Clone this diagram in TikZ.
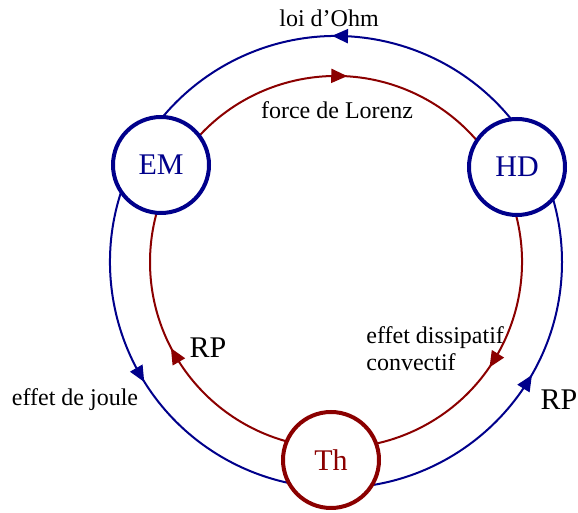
\documentclass[tikz,border=0pt]{standalone}
\usepackage{fontspec}
\setmainfont{Liberation Serif}
\usetikzlibrary{arrows.meta,decorations.markings}
\definecolor{bleu}{RGB}{0,0,139}
\definecolor{rouge}{RGB}{139,0,0}
\tikzset{
  domaine/.style={circle, draw, line width=2pt, fill=white, minimum size=48pt, inner sep=0pt, font=\fontsize{15}{18}\selectfont},
  lien/.style={line width=1pt, postaction={decorate}, decoration={markings, mark=at position 0.5 with {\arrow[xshift=4pt]{Triangle[length=8pt,width=7pt]}}}},
  etiq/.style={inner sep=0pt, font=\fontsize{12}{13.5}\selectfont},
  grand/.style={inner sep=0pt, font=\fontsize{15}{18}\selectfont}
}
\begin{document}
\begin{tikzpicture}[x=0.5pt, y=0.5pt, line cap=round]
    \useasboundingbox (0,0) rectangle (578,513);

    % Centro dei cerchi
    \coordinate (c) at (336,251);

    % Cerchio esterno (blu)
    \draw[lien, bleu] ([shift={(27:226)}]c) arc[start angle=27, end angle=151, radius=226];
    \draw[lien, bleu] ([shift={(151:226)}]c) arc[start angle=151, end angle=269, radius=226];
    \draw[lien, bleu] ([shift={(269:226)}]c) arc[start angle=269, end angle=387, radius=226];

    % Cerchio interno (rosso)
    \draw[lien, rouge] ([shift={(151:186)}]c) arc[start angle=151, end angle=27, radius=186];
    \draw[lien, rouge] ([shift={(27:186)}]c) arc[start angle=27, end angle=-91, radius=186];
    \draw[lien, rouge] ([shift={(269:186)}]c) arc[start angle=269, end angle=151, radius=186];

    % Domini
    \node[domaine, draw=bleu, text=bleu] (EM) at (161,348) {EM};
    \node[domaine, draw=bleu, text=bleu] (HD) at (517,346) {HD};
    \node[domaine, draw=rouge, text=rouge] (Th) at (331,53) {Th};

    % Etichette
    \node[etiq] (ohm) at (329,495) {loi d’Ohm};
    \node[etiq] (lorenz) at (337,403) {force de Lorenz};
    \node[etiq] (joule) at (75,113) {effet de joule};
    \node[etiq, align=left, anchor=west] (dissip) at (366,164) {effet dissipatif\\convectif};
    \node[grand] (rpg) at (208,165) {RP};
    \node[grand] (rpd) at (559,113) {RP};
\end{tikzpicture}
\end{document}
